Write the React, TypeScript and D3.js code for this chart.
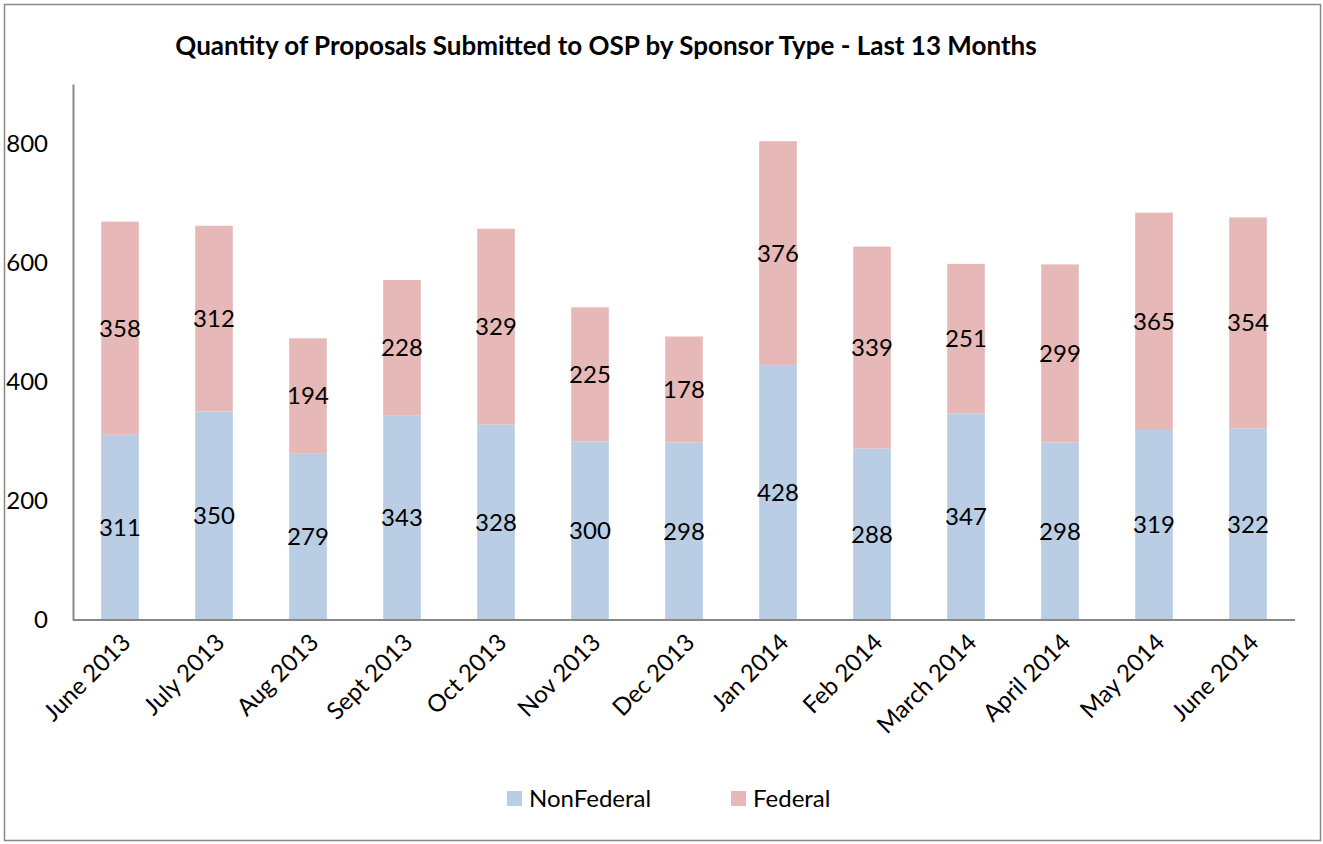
import React, { useEffect, useRef } from 'react';
import * as d3 from 'd3';

const months = ['June 2013', 'July 2013', 'Aug 2013', 'Sept 2013', 'Oct 2013', 'Nov 2013', 'Dec 2013',
  'Jan 2014', 'Feb 2014', 'March 2014', 'April 2014', 'May 2014', 'June 2014'];
const nonFederal = [311, 350, 279, 343, 328, 300, 298, 428, 288, 347, 298, 319, 322];
const federal = [358, 312, 194, 228, 329, 225, 178, 376, 339, 251, 299, 365, 354];
const yTicks = [0, 200, 400, 600, 800];
const seriesNames = ['NonFederal', 'Federal'];
const colors = ['#B9CDE5', '#E6B9B8'];

const FONT = 'Lato, "Open Sans", sans-serif';
const FS = 24;

const App = () => {
  const ref = useRef<SVGSVGElement>(null);

  useEffect(() => {
    if (!ref.current) return;
    const svg = d3.select(ref.current);
    svg.selectAll('*').remove();

    const left = 73, right = 1295, top = 84, bottom = 620;

    // outer frame
    svg.append('rect')
      .attr('x', 4.5).attr('y', 4.5).attr('width', 1316).attr('height', 836)
      .attr('fill', 'white').attr('stroke', '#888').attr('stroke-width', 1.5);

    svg.append('text')
      .attr('x', 606).attr('y', 55)
      .attr('text-anchor', 'middle')
      .attr('font-family', FONT).attr('font-weight', 'bold').attr('font-size', 26)
      .text('Quantity of Proposals Submitted to OSP by Sponsor Type - Last 13 Months');

    const x = d3.scaleBand().domain(months).range([left, right]).paddingInner(0.6).paddingOuter(0.3);
    const y = d3.scaleLinear().domain([0, 900]).range([bottom, top]);

    const rows = months.map((m, i) => ({ month: m, NonFederal: nonFederal[i], Federal: federal[i] }));
    const stacked = d3.stack<any>().keys(seriesNames)(rows);

    const g = svg.append('g');
    stacked.forEach((s, si) => {
      g.selectAll(null).data(s).enter().append('rect')
        .attr('x', d => x(d.data.month)!)
        .attr('y', d => y(d[1]))
        .attr('width', x.bandwidth())
        .attr('height', d => y(d[0]) - y(d[1]))
        .attr('fill', colors[si]);
      g.selectAll(null).data(s).enter().append('text')
        .attr('x', d => x(d.data.month)! + x.bandwidth() / 2)
        .attr('y', d => y((d[0] + d[1]) / 2))
        .attr('dy', '0.35em')
        .attr('text-anchor', 'middle')
        .attr('font-family', FONT).attr('font-size', FS).attr('fill', '#000')
        .text(d => d[1] - d[0]);
    });

    // axes
    const yAxis = svg.append('g').attr('transform', `translate(${left},0)`)
      .call(d3.axisLeft(y).tickValues(yTicks).tickSize(0).tickPadding(25));
    yAxis.select('.domain').attr('stroke', '#888').attr('stroke-width', 2);
    yAxis.selectAll('text').attr('font-family', FONT).attr('font-size', FS).attr('fill', '#000');

    const xAxis = svg.append('g').attr('transform', `translate(0,${bottom})`)
      .call(d3.axisBottom(x).tickSize(0).tickSizeOuter(0));
    xAxis.select('.domain').attr('stroke', '#888').attr('stroke-width', 2)
      .attr('d', `M${left},0H${right}`);
    xAxis.selectAll('text')
      .attr('font-family', FONT).attr('font-size', FS).attr('fill', '#000')
      .attr('text-anchor', 'end')
      .attr('dy', null)
      .attr('y', 0)
      .attr('transform', 'translate(12,24) rotate(-45)');

    // legend
    const legendX = [507, 731];
    seriesNames.forEach((name, i) => {
      svg.append('rect')
        .attr('x', legendX[i]).attr('y', 791).attr('width', 15).attr('height', 15)
        .attr('fill', colors[i]);
      svg.append('text')
        .attr('x', legendX[i] + 22).attr('y', 807)
        .attr('font-family', FONT).attr('font-size', FS).attr('fill', '#000')
        .text(name);
    });
  }, []);

  return (
    <div style={{ position: 'absolute', left: 0, top: 0 }}>
      <svg ref={ref} width={1323} height={844} style={{ display: 'block' }} />
    </div>
  );
};

export default App;
